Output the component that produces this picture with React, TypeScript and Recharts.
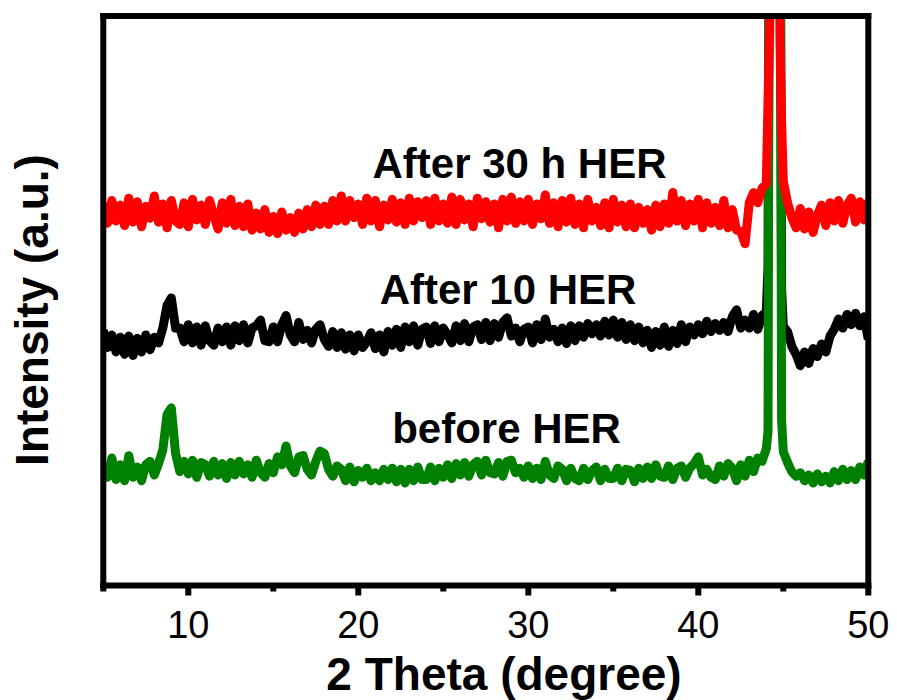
import React from 'react';
import { LineChart, Line, XAxis, YAxis, ReferenceLine } from 'recharts';

// 2θ sampling positions (degree)
const twoTheta = [
  5, 5.25, 5.5, 5.75, 6, 6.25, 6.5, 6.75, 7, 7.25, 7.5, 7.75, 8, 8.25, 8.5, 8.75,
  9, 9.25, 9.5, 9.75, 10, 10.25, 10.5, 10.75, 11, 11.25, 11.5, 11.75, 12, 12.25, 12.5, 12.75,
  13, 13.25, 13.5, 13.75, 14, 14.25, 14.5, 14.75, 15, 15.25, 15.5, 15.75, 16, 16.25, 16.5, 16.75,
  17, 17.25, 17.5, 17.75, 18, 18.25, 18.5, 18.75, 19, 19.25, 19.5, 19.75, 20, 20.25, 20.5, 20.75,
  21, 21.25, 21.5, 21.75, 22, 22.25, 22.5, 22.75, 23, 23.25, 23.5, 23.75, 24, 24.25, 24.5, 24.75,
  25, 25.25, 25.5, 25.75, 26, 26.25, 26.5, 26.75, 27, 27.25, 27.5, 27.75, 28, 28.25, 28.5, 28.75,
  29, 29.25, 29.5, 29.75, 30, 30.25, 30.5, 30.75, 31, 31.25, 31.5, 31.75, 32, 32.25, 32.5, 32.75,
  33, 33.25, 33.5, 33.75, 34, 34.25, 34.5, 34.75, 35, 35.25, 35.5, 35.75, 36, 36.25, 36.5, 36.75,
  37, 37.25, 37.5, 37.75, 38, 38.25, 38.5, 38.75, 39, 39.25, 39.5, 39.75, 40, 40.25, 40.5, 40.75,
  41, 41.25, 41.5, 41.75, 42, 42.25, 42.5, 42.75, 43, 43.25, 43.5, 43.75, 44,
  44.1, 44.2, 44.3, 44.4, 44.5, 44.6, 44.7, 44.8, 44.9, 45,
  45.25, 45.5, 45.75, 46, 46.25, 46.5, 46.75, 47, 47.25, 47.5, 47.75,
  48, 48.25, 48.5, 48.75, 49, 49.25, 49.5, 49.75, 50,
];

// offset intensities (a.u.)
const after30h = [
  672, 636, 676, 640, 668, 632, 680, 638, 674, 630, 666, 645, 684, 638, 670, 628,
  676, 640, 634, 672, 630, 678, 642, 668, 634, 676, 650, 626, 672, 636, 678, 632,
  666, 630, 670, 624, 654, 626, 660, 620, 648, 618, 656, 624, 646, 620, 654, 626,
  660, 630, 668, 634, 666, 634, 676, 640, 684, 640, 676, 646, 670, 634, 680, 640,
  676, 630, 668, 642, 678, 638, 672, 634, 680, 640, 674, 646, 676, 634, 680, 640,
  670, 636, 682, 634, 678, 642, 670, 630, 680, 644, 674, 638, 670, 628, 678, 640,
  682, 636, 674, 640, 678, 634, 670, 644, 686, 636, 672, 630, 676, 638, 680, 634,
  670, 628, 678, 640, 664, 632, 672, 628, 678, 638, 668, 630, 670, 628, 664, 636,
  660, 624, 668, 630, 670, 636, 690, 640, 676, 632, 670, 640, 678, 628, 672, 636,
  664, 632, 676, 628, 660, 624, 622, 600, 672, 690, 672, 698, 705,
  850, 975, 1800, 3000, 3500, 3000, 2000, 960, 815, 710,
  672, 646, 628, 662, 626, 656, 620, 650, 668, 632, 672,
  640, 676, 636, 668, 680, 638, 674, 642, 676,
];

const after10 = [
  448, 418, 440, 410, 436, 406, 438, 404, 434, 410, 440, 414, 436, 426, 452, 492,
  505, 452, 452, 428, 458, 426, 454, 422, 456, 430, 422, 452, 428, 454, 422, 456,
  430, 458, 426, 452, 456, 466, 430, 428, 454, 428, 458, 474, 440, 428, 462, 432,
  448, 426, 450, 458, 432, 420, 446, 418, 444, 415, 440, 412, 440, 418, 428, 444,
  416, 440, 410, 446, 422, 450, 418, 454, 428, 456, 422, 450, 454, 425, 456, 428,
  452, 440, 426, 456, 430, 460, 428, 454, 458, 432, 462, 430, 460, 436, 462, 470,
  438, 452, 428, 450, 454, 426, 458, 432, 468, 436, 450, 428, 452, 425, 456, 430,
  456, 436, 460, 442, 458, 438, 464, 440, 466, 436, 462, 432, 458, 430, 454, 426,
  448, 418, 446, 422, 454, 420, 448, 425, 458, 428, 454, 440, 458, 442, 464, 446,
  460, 448, 462, 446, 472, 484, 452, 466, 452, 476, 450, 474, 480,
  560, 1400, 3000, 4500, 5000, 4500, 3000, 1400, 520, 455,
  446, 420, 406, 386, 410, 390, 416, 402, 424, 410, 438,
  450, 468, 452, 476, 458, 478, 456, 472, 432,
];

const beforeHER = [
  214, 190, 224, 186, 212, 184, 228, 190, 208, 184, 212, 218, 194, 214, 238, 300,
  312, 232, 200, 218, 196, 220, 190, 216, 212, 192, 218, 194, 214, 188, 216, 194,
  218, 196, 212, 190, 220, 198, 190, 214, 198, 226, 212, 245, 210, 198, 226, 228,
  204, 194, 218, 236, 232, 204, 192, 210, 204, 184, 208, 182, 202, 190, 206, 184,
  198, 184, 204, 186, 206, 182, 204, 180, 204, 184, 208, 186, 186, 208, 184, 206,
  190, 212, 188, 214, 194, 216, 192, 212, 218, 194, 220, 198, 196, 216, 192, 218,
  220, 198, 206, 190, 210, 188, 206, 186, 218, 194, 188, 210, 204, 184, 206, 188,
  184, 206, 186, 202, 208, 184, 204, 188, 188, 206, 184, 204, 202, 182, 206, 188,
  208, 188, 212, 192, 190, 210, 186, 206, 210, 190, 206, 214, 226, 194, 204, 190,
  186, 210, 192, 214, 206, 184, 212, 192, 220, 200, 224, 218, 240,
  270, 1400, 4500, 7000, 8000, 7000, 4500, 1400, 290, 235,
  216, 200, 192, 198, 184, 194, 180, 196, 182, 192, 180,
  200, 184, 204, 186, 202, 186, 208, 194, 218,
];

const xTicks = [5, 10, 15, 20, 25, 30, 35, 40, 45, 50];
const seriesLabels = ['After 30 h HER', 'After 10 HER', 'before HER'];

const data = twoTheta.map((t, i) => ({
  t,
  a30: after30h[i],
  a10: after10[i],
  bef: beforeHER[i],
}));

const FONT = "Arial, 'Liberation Sans', Helvetica, sans-serif";

const XTick = (props: any) => {
  const { x, y, payload } = props;
  const v = payload.value;
  const major = v % 10 === 0;
  return (
    <g>
      <line x1={x} x2={x} y1={y} y2={y + (major ? 10 : 6)} stroke="#000" strokeWidth={6} />
      {major && (
        <text x={x} y={y + 52} textAnchor="middle" fontSize={38} fontFamily={FONT} fill="#000">
          {v}
        </text>
      )}
    </g>
  );
};

export default function App() {
  return (
    <div style={{ position: 'absolute', left: 0, top: 0, background: '#fff' }}>
      <LineChart
        width={897}
        height={700}
        data={data}
        margin={{ top: 16, right: 28.7, bottom: 0, left: 43.3 }}
      >
        <XAxis
          dataKey="t"
          type="number"
          domain={[5, 50]}
          ticks={xTicks}
          allowDataOverflow
          height={114.5}
          tickLine={false}
          tickSize={0}
          tickMargin={0}
          tick={<XTick />}
          axisLine={{ stroke: '#000', strokeWidth: 6, strokeLinecap: 'square' }}
          interval={0}
        />
        <YAxis
          type="number"
          domain={[0, 1000]}
          allowDataOverflow
          width={60}
          tick={false}
          tickLine={false}
          axisLine={{ stroke: '#000', strokeWidth: 6, strokeLinecap: 'square' }}
        />
        <Line type="linear" dataKey="a10" stroke="#000000" strokeWidth={9} dot={false} strokeLinejoin="round" isAnimationActive={false} />
        <Line type="linear" dataKey="bef" stroke="#008000" strokeWidth={9} dot={false} strokeLinejoin="round" isAnimationActive={false} />
        <Line type="linear" dataKey="a30" stroke="#ff0000" strokeWidth={9} dot={false} strokeLinejoin="round" isAnimationActive={false} />
        <ReferenceLine y={1000} stroke="#000" strokeWidth={6} strokeLinecap="square" />
        <ReferenceLine x={50} stroke="#000" strokeWidth={6} strokeLinecap="square" />
        <text x={519.5} y={178} textAnchor="middle" fontSize={42} fontWeight="bold" fontFamily={FONT} fill="#000">
          {seriesLabels[0]}
        </text>
        <text x={508} y={304} textAnchor="middle" fontSize={42} fontWeight="bold" fontFamily={FONT} fill="#000">
          {seriesLabels[1]}
        </text>
        <text x={506.5} y={443} textAnchor="middle" fontSize={42} fontWeight="bold" fontFamily={FONT} fill="#000">
          {seriesLabels[2]}
        </text>
        <text x={504} y={690} textAnchor="middle" fontSize={46} fontWeight="bold" fontFamily={FONT} fill="#000">
          2 Theta (degree)
        </text>
        <text
          x={48}
          y={310}
          transform="rotate(-90, 48, 310)"
          textAnchor="middle"
          fontSize={46}
          fontWeight="bold"
          fontFamily={FONT}
          fill="#000"
        >
          Intensity (a.u.)
        </text>
      </LineChart>
    </div>
  );
}
